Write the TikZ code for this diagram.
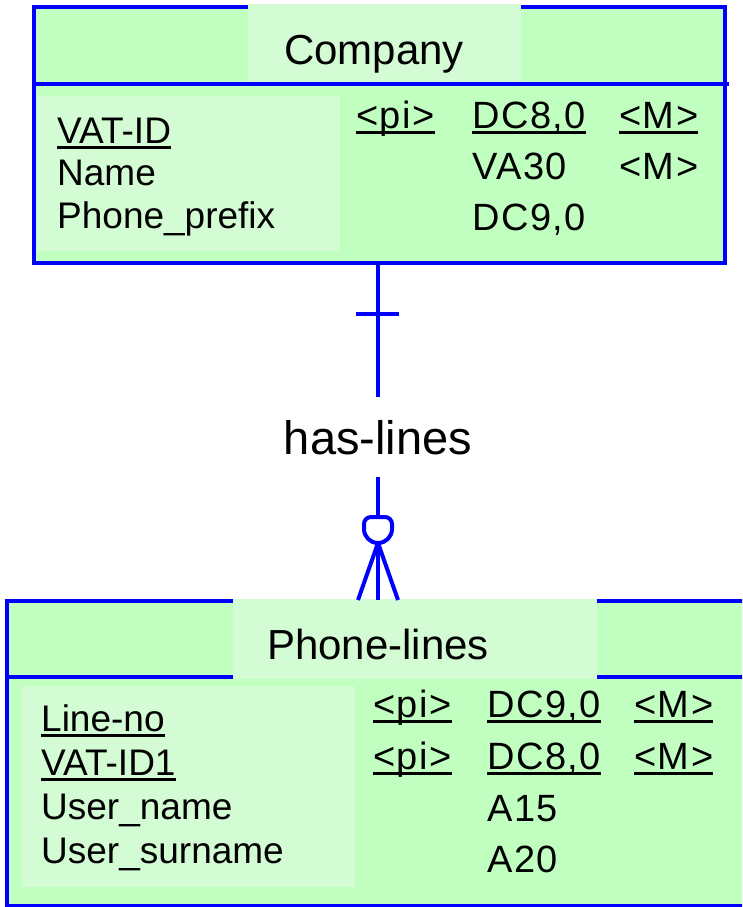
\documentclass[tikz,border=0pt]{standalone}
\usepackage{fontspec}
\setmainfont{Liberation Sans}
% spaced face for the key/type/mandatory columns
\newfontfamily\colfont{Liberation Sans}[LetterSpace=4]
\definecolor{entdark}{RGB}{192,255,192}
\definecolor{entlight}{RGB}{212,252,212}
\definecolor{erblue}{RGB}{0,0,255}
% underline for identifier attributes
\newcommand\keyul[1]{\setbox0=\hbox{#1}\rlap{\vrule height -3pt depth 6pt width \wd0}\box0}
\begin{document}
\begin{tikzpicture}[x=1pt,y=-1pt,
  frame/.style={draw=erblue,line width=3.5pt},
  txt/.style={anchor=base west,inner sep=0pt,font=\fontsize{37}{40}\selectfont},
  col/.style={anchor=base west,inner sep=0pt,font=\colfont\fontsize{38}{41}\selectfont},
  ttl/.style={anchor=base,inner sep=0pt,font=\fontsize{42}{48}\selectfont},
  link/.style={draw=erblue,line width=4pt}]
\clip (0,0) rectangle (742,907);

% ---------- entity Company ----------
\fill[entdark] (34,7) rectangle (725,263);
\draw[frame] (34,7) rectangle (725,263);
\draw[frame] (34,84) -- (729,84);
\fill[entlight] (248,4) rectangle (521,82);
\fill[entlight] (37,96) rectangle (340,251);
\node[ttl] (company) at (374,64) {Company};
\node[txt] (c-a1) at (57,143) {\keyul{VAT-ID}};
\node[txt] (c-a2) at (57,185) {Name};
\node[txt] (c-a3) at (57,228) {Phone\_prefix};
\node[col] (c-k1) at (356,128) {\keyul{<pi>}};
\node[col] (c-t1) at (472,128) {\keyul{DC8,0}};
\node[col] (c-m1) at (619,128) {\keyul{<M>}};
\node[col] (c-t2) at (472,179) {VA30};
\node[col] (c-m2) at (619,179) {<M>};
\node[col] (c-t3) at (472,230) {DC9,0};

% ---------- entity Phone-lines ----------
\fill[entdark] (7,601) rectangle (760,906);
\draw[frame] (7,601) rectangle (760,906);
\draw[frame] (7,677) -- (760,677);
\fill[entlight] (233,599) rectangle (597,679);
\fill[entlight] (22,686) rectangle (355,887);
\node[ttl] (phone) at (378,659) {Phone-lines};
\node[txt] (p-a1) at (41,731) {\keyul{Line-no}};
\node[txt] (p-a2) at (41,775) {\keyul{VAT-ID1}};
\node[txt] (p-a3) at (41,819) {User\_name};
\node[txt] (p-a4) at (41,863) {User\_surname};
\node[col] (p-k1) at (373,717) {\keyul{<pi>}};
\node[col] (p-t1) at (487,717) {\keyul{DC9,0}};
\node[col] (p-m1) at (634,717) {\keyul{<M>}};
\node[col] (p-k2) at (373,769) {\keyul{<pi>}};
\node[col] (p-t2) at (487,769) {\keyul{DC8,0}};
\node[col] (p-m2) at (634,769) {\keyul{<M>}};
\node[col] (p-t3) at (487,821) {A15};
\node[col] (p-t4) at (487,872) {A20};

% ---------- relationship has-lines ----------
\node[ttl,font=\fontsize{47}{52}\selectfont] (rel) at (378,454) {has-lines};
\coordinate (r-top) at (378,263);
\coordinate (r-up) at (378,397);
\coordinate (bar-l) at (356,314);
\coordinate (bar-r) at (399,314);
\draw[link] (r-top) -- (r-up);
\draw[link] (bar-l) -- (bar-r);
% optional side: circle and crow's foot
\coordinate (r-down) at (378,477);
\coordinate (o-top) at (378,517);
\coordinate (foot) at (378,543);
\coordinate (foot-l) at (358,600);
\coordinate (foot-m) at (378,600);
\coordinate (foot-r) at (398,600);
\draw[link] (r-down) -- (o-top);
\draw[link] (364,529) [rounded corners=7pt] -- (364,517) -- (392,517) [sharp corners] -- (392,529)
  arc[start angle=0,end angle=180,radius=14] -- cycle;
\draw[link] (foot) -- (foot-l);
\draw[link] (foot) -- (foot-m);
\draw[link] (foot) -- (foot-r);
\end{tikzpicture}
\end{document}
